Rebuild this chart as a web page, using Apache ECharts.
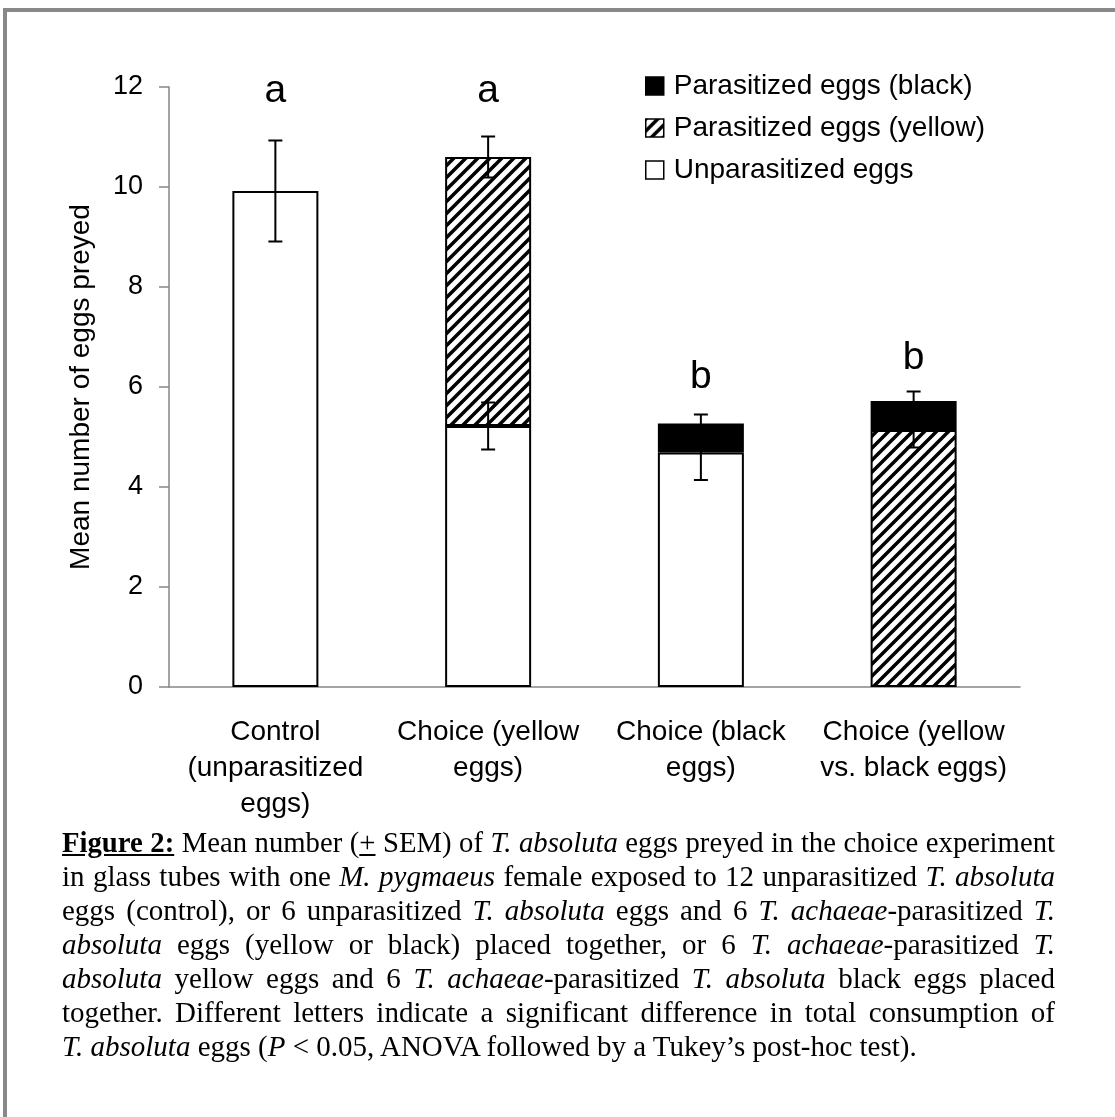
<!DOCTYPE html>
<html>
<head>
<meta charset="utf-8">
<script src="https://cdn.jsdelivr.net/npm/echarts@6/dist/echarts.min.js"></script>
<style>
  html, body { margin: 0; padding: 0; background: #fff; }
  #chart { position: absolute; left: 0; top: 0; width: 1115px; height: 1117px; }
  #caption { position: absolute; left: 62px; top: 825px; width: 993px;
    font-family: "Liberation Serif", "Times New Roman", serif; font-size: 29px; color: #000; }
  #caption .ln { width: 993px; height: 34px; line-height: 34px; text-align: justify; text-align-last: justify; white-space: nowrap; transform-origin: 0 50%; }
  #caption .ln.last { text-align: left; text-align-last: left; }
  #caption i { font-style: italic; }
  #caption .fig { font-weight: bold; text-decoration: underline; }
  #measure { position: absolute; left: -5000px; top: 0; white-space: nowrap;
    font-family: "Liberation Serif", "Times New Roman", serif; font-size: 29px; }
</style>
</head>
<body>
<div id="chart"></div>
<div id="caption">
  <div class="ln"><span class="fig">Figure 2:</span> Mean number (<u>+</u> SEM) of <i>T. absoluta</i> eggs preyed in the choice experiment</div>
  <div class="ln">in glass tubes with one <i>M. pygmaeus</i> female exposed to 12 unparasitized <i>T. absoluta</i></div>
  <div class="ln">eggs (control), or 6 unparasitized <i>T. absoluta</i> eggs and 6 <i>T. achaeae</i>-parasitized <i>T.</i></div>
  <div class="ln"><i>absoluta</i> eggs (yellow or black) placed together, or 6 <i>T. achaeae</i>-parasitized <i>T.</i></div>
  <div class="ln"><i>absoluta</i> yellow eggs and 6 <i>T. achaeae</i>-parasitized <i>T. absoluta</i> black eggs placed</div>
  <div class="ln">together. Different letters indicate a significant difference in total consumption of</div>
  <div class="ln last"><i>T. absoluta</i> eggs (<i>P</i> &lt; 0.05, ANOVA followed by a Tukey’s post-hoc test).</div>
</div>
<span id="measure"></span>
<script>
// fit any caption line whose natural width would exceed the column
function fitCaption() {
  const W = 993;
  const m = document.getElementById('measure');
  document.querySelectorAll('#caption .ln').forEach(ln => {
    if (ln.classList.contains('last')) return;
    m.innerHTML = ln.innerHTML;
    const w = m.getBoundingClientRect().width;
    const target = W - 12;
    if (w > target) {
      const s = target / w;
      ln.style.width = (W / s) + 'px';
      ln.style.transform = 'scaleX(' + s + ')';
    } else {
      ln.style.width = W + 'px';
      ln.style.transform = 'none';
    }
  });
  m.innerHTML = '';
}
fitCaption();
if (document.fonts && document.fonts.ready) document.fonts.ready.then(fitCaption);

// ---- data ----
const categories = ['Control\n(unparasitized\neggs)', 'Choice (yellow\neggs)', 'Choice (black\neggs)', 'Choice (yellow\nvs. black eggs)'];
const unparasitized = [9.92, 5.22, 4.69, '-'];
const parasitizedYellow = ['-', 5.38, '-', 5.14];
const parasitizedBlack = ['-', '-', 0.58, 0.58];
const semUnparasitized = [1.01, 0.47, 0.55, null];
const semYellow = [null, 0.41, null, 0.35];
const semBlack = [null, null, 0.18, 0.19];
const letters = ['a', 'a', 'b', 'b'];
const letterY = [11.92, 11.92, 6.2, 6.58];
const yMin = 0, yMax = 12, yStep = 2;

const seriesNames = ['Unparasitized eggs', 'Parasitized eggs (yellow)', 'Parasitized eggs (black)'];

// hatch pattern
function makeHatch() {
  const s = 12;
  const c = document.createElement('canvas');
  c.width = s; c.height = s;
  const ctx = c.getContext('2d');
  ctx.fillStyle = '#fff';
  ctx.fillRect(0, 0, s, s);
  ctx.strokeStyle = '#000';
  ctx.lineWidth = 3.5;
  ctx.beginPath();
  ctx.moveTo(-2, s + 2); ctx.lineTo(s + 2, -2);
  ctx.moveTo(-2, 2); ctx.lineTo(2, -2);
  ctx.moveTo(s - 2, s + 2); ctx.lineTo(s + 2, s - 2);
  ctx.stroke();
  return c;
}
const hatch = { image: makeHatch(), repeat: 'repeat' };

// error bar data built from values
const errData = [];
for (let i = 0; i < categories.length; i++) {
  let cum = 0;
  const segs = [[unparasitized[i], semUnparasitized[i]], [parasitizedYellow[i], semYellow[i]], [parasitizedBlack[i], semBlack[i]]];
  segs.forEach(([v, e]) => {
    if (typeof v === 'number') {
      cum += v;
      if (e != null) errData.push([i, cum - e, cum + e]);
    }
  });
}
const letterData = letters.map((l, i) => [i, letterY[i], l]);

const FONT = '"Liberation Sans", Arial, sans-serif';
const barStyleBase = { borderColor: '#000', borderWidth: 2 };

const chart = echarts.init(document.getElementById('chart'), null, { renderer: 'canvas' });
chart.setOption({
  backgroundColor: '#fff',
  animation: false,
  textStyle: { fontFamily: FONT, color: '#000' },
  graphic: [
    { type: 'rect', shape: { x: 3, y: 8, width: 1112, height: 4 }, style: { fill: '#888' } },
    { type: 'rect', shape: { x: 3, y: 8, width: 4, height: 1109 }, style: { fill: '#888' } }
  ],
  grid: { left: 169, right: 95, top: 87, bottom: 430, containLabel: false },
  legend: {
    orient: 'vertical', left: 645, top: 72, padding: 0,
    itemWidth: 18, itemHeight: 18, itemGap: 14, icon: 'rect',
    textStyle: { fontFamily: FONT, fontSize: 28, color: '#000', padding: [0, 0, 0, 5] },
    data: [
      { name: seriesNames[2], itemStyle: { color: '#000', borderColor: '#000', borderWidth: 1.5 } },
      { name: seriesNames[1], itemStyle: { color: hatch, borderColor: '#000', borderWidth: 1.5 } },
      { name: seriesNames[0], itemStyle: { color: '#fff', borderColor: '#000', borderWidth: 1.5 } }
    ]
  },
  xAxis: {
    type: 'category', data: categories,
    axisLine: { lineStyle: { color: '#868686', width: 1.5 } },
    axisTick: { length: 9, lineStyle: { color: '#868686', width: 1.5 } },
    axisLabel: { fontFamily: FONT, fontSize: 28, color: '#000', lineHeight: 36, margin: 27, interval: 0 }
  },
  yAxis: {
    type: 'value', min: yMin, max: yMax, interval: yStep,
    name: 'Mean number of eggs preyed', nameLocation: 'middle', nameGap: 74, nameRotate: 90,
    nameTextStyle: { fontFamily: FONT, fontSize: 28, color: '#000' },
    axisLine: { show: true, lineStyle: { color: '#868686', width: 1.5 } },
    axisTick: { show: true, length: 10, lineStyle: { color: '#868686', width: 1.5 } },
    axisLabel: { fontFamily: FONT, fontSize: 27, color: '#000', margin: 26 },
    splitLine: { show: false }
  },
  series: [
    { name: seriesNames[0], type: 'bar', stack: 'eggs', barWidth: 86, data: unparasitized,
      itemStyle: Object.assign({ color: '#fff' }, barStyleBase) },
    { name: seriesNames[1], type: 'bar', stack: 'eggs', barWidth: 86, data: parasitizedYellow,
      itemStyle: Object.assign({ color: hatch }, barStyleBase) },
    { name: seriesNames[2], type: 'bar', stack: 'eggs', barWidth: 86, data: parasitizedBlack,
      itemStyle: Object.assign({ color: '#000' }, barStyleBase) },
    { type: 'custom', name: 'err', z: 10, data: errData,
      renderItem: function (params, api) {
        const x = api.value(0);
        const lo = api.coord([x, api.value(1)]);
        const hi = api.coord([x, api.value(2)]);
        const hw = 7;
        const st = { stroke: '#000', lineWidth: 2 };
        return { type: 'group', children: [
          { type: 'line', shape: { x1: lo[0], y1: lo[1], x2: hi[0], y2: hi[1] }, style: st },
          { type: 'line', shape: { x1: lo[0] - hw, y1: lo[1], x2: lo[0] + hw, y2: lo[1] }, style: st },
          { type: 'line', shape: { x1: hi[0] - hw, y1: hi[1], x2: hi[0] + hw, y2: hi[1] }, style: st }
        ] };
      }
    },
    { type: 'scatter', name: 'letters', symbolSize: 0, z: 11, data: letterData, silent: true,
      label: { show: true, position: 'inside', formatter: p => p.data[2],
        fontFamily: FONT, fontSize: 39, color: '#000', textBorderWidth: 0, opacity: 1 },
      emphasis: { disabled: true } }
  ]
});
</script>
</body>
</html>
